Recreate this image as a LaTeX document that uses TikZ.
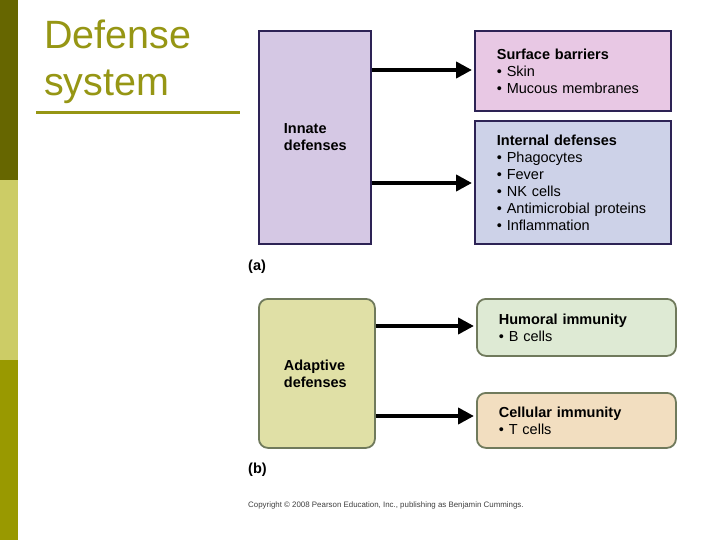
\documentclass[tikz,border=0pt]{standalone}
\usepackage{fontspec}
\setmainfont{Liberation Sans}
\usetikzlibrary{arrows.meta,positioning}
\definecolor{bardark}{RGB}{102,102,0}
\definecolor{barlight}{RGB}{204,204,102}
\definecolor{barmid}{RGB}{153,153,0}
\definecolor{titlecol}{RGB}{150,150,20}
\definecolor{innfill}{RGB}{213,200,228}
\definecolor{surffill}{RGB}{232,200,228}
\definecolor{intfill}{RGB}{205,210,232}
\definecolor{innborder}{RGB}{45,35,85}
\definecolor{adfill}{RGB}{224,224,166}
\definecolor{humfill}{RGB}{222,234,212}
\definecolor{celfill}{RGB}{242,222,192}
\definecolor{adborder}{RGB}{112,122,92}
\tikzset{
  box/.style={draw=innborder, line width=1.8pt, anchor=north west, align=left,
    font=\fontsize{14.5}{17}\selectfont, inner ysep=0pt},
  abox/.style={box, draw=adborder, rounded corners=9pt},
  arr/.style={line width=4pt, -{Triangle[length=16pt,width=16pt]}, shorten >=2pt},
  lbl/.style={anchor=north west, font=\fontsize{14.5}{17}\selectfont, inner sep=0pt},
}
\begin{document}
\begin{tikzpicture}[x=1pt,y=-1pt]
\useasboundingbox (0,0) rectangle (720,540);
\fill[white] (0,0) rectangle (720,540);
% side bar
\fill[bardark] (0,0) rectangle (18,180);
\fill[barlight] (18,180) rectangle (0,360);
\fill[barmid] (0,360) rectangle (18,540);
% title
\node[anchor=north west, inner sep=0pt, align=left, text=titlecol,
  font=\fontsize{39.5}{47}\selectfont] (title) at (44,20) {Defense\\system};
\draw[titlecol, line width=3pt] (36,113) -- (240,113);
% (a)
\node[box, fill=innfill, text width=62pt, inner xsep=25pt, minimum height=213pt] (innate) at (258,30) {\textbf{Innate}\\\textbf{defenses}};
\node[box, fill=surffill, text width=152pt, inner xsep=22pt, minimum height=80pt] (surf) at (474,30) {\textbf{Surface barriers}\\• Skin\\• Mucous membranes};
\node[box, fill=intfill, text width=152pt, inner xsep=22pt, minimum height=123pt] (int) at (474,120) {\textbf{Internal defenses}\\• Phagocytes\\• Fever\\• NK cells\\• Antimicrobial proteins\\• Inflammation};
\coordinate (a1) at (0,70);
\coordinate (a2) at (0,183);
\draw[arr] (innate.east |- a1) -- (surf.west |- a1);
\draw[arr] (innate.east |- a2) -- (int.west |- a2);
\node[lbl] (la) at (248,260) {\textbf{(a)}};
% (b)
\node[abox, fill=adfill, text width=66pt, inner xsep=25pt, minimum height=149pt] (adapt) at (258,298) {\textbf{Adaptive}\\\textbf{defenses}};
\node[abox, fill=humfill, text width=155pt, inner xsep=22pt, minimum height=57pt] (hum) at (476,298) {\textbf{Humoral immunity}\\• B cells};
\node[abox, fill=celfill, text width=155pt, inner xsep=22pt, minimum height=55pt] (cel) at (476,392) {\textbf{Cellular immunity}\\• T cells};
\coordinate (b1) at (0,326);
\coordinate (b2) at (0,416);
\draw[arr] (adapt.east |- b1) -- (hum.west |- b1);
\draw[arr] (adapt.east |- b2) -- (cel.west |- b2);
\node[lbl] (lb) at (248,463) {\textbf{(b)}};
\node[anchor=west, inner sep=0pt, text=black!75, font=\fontsize{7.9}{9}\selectfont] (copy) at (248,505) {Copyright © 2008 Pearson Education, Inc., publishing as Benjamin Cummings.};
\end{tikzpicture}
\end{document}
